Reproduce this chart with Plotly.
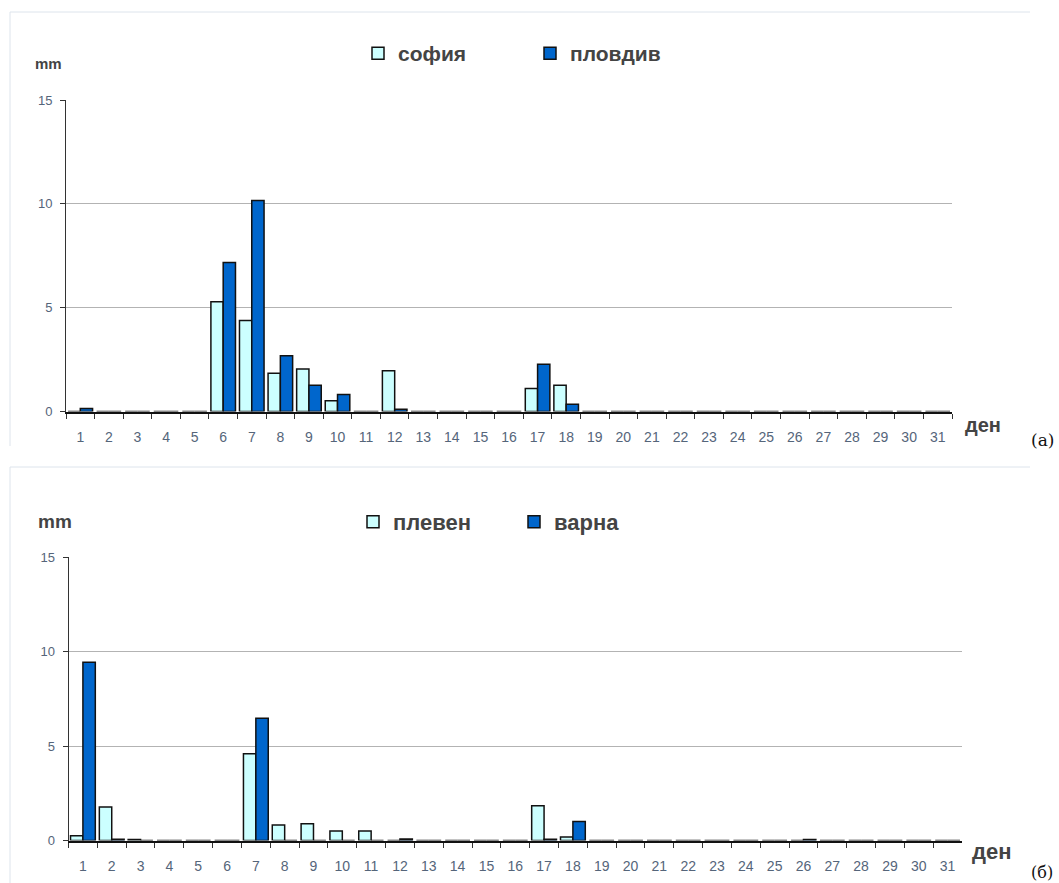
import plotly.graph_objects as go

days = [str(d) for d in range(1, 32)]

sofia = [0, 0, 0, 0, 0, 5.28, 4.38, 1.84, 2.05, 0.52, 0, 1.96, 0, 0, 0, 0, 1.11, 1.27,
         0, 0, 0, 0, 0, 0, 0, 0, 0, 0, 0, 0, 0]
plovdiv = [0.15, 0, 0, 0, 0, 7.17, 10.16, 2.69, 1.27, 0.82, 0, 0.11, 0, 0, 0, 0, 2.27, 0.35,
           0, 0, 0, 0, 0, 0, 0, 0, 0, 0, 0, 0, 0]
pleven = [0.25, 1.77, 0.05, 0, 0, 0, 4.59, 0.82, 0.89, 0.50, 0.50, 0, 0, 0, 0, 0, 1.84, 0.19,
          0, 0, 0, 0, 0, 0, 0, 0, 0, 0, 0, 0, 0]
varna = [9.43, 0.07, 0, 0, 0, 0, 6.47, 0, 0, 0, 0, 0.08, 0, 0, 0, 0, 0.07, 1.01,
         0, 0, 0, 0, 0, 0, 0, 0.05, 0, 0, 0, 0, 0]

ytick_vals = [0, 5, 10, 15]

W, H = 1059, 883
LIGHT = "#ccffff"
DARK = "#0066cc"
TICKCOL = "#55657a"
TXT = "#444444"


def px_x(p):
    return p / W


def px_y(p):
    return 1 - p / H


fig = go.Figure()
bar_line = dict(color="#111111", width=1.5)
fig.add_trace(go.Bar(x=days, y=sofia, name="софия", marker=dict(color=LIGHT, line=bar_line),
                     xaxis="x", yaxis="y", legend="legend"))
fig.add_trace(go.Bar(x=days, y=plovdiv, name="пловдив", marker=dict(color=DARK, line=bar_line),
                     xaxis="x", yaxis="y", legend="legend"))
fig.add_trace(go.Bar(x=days, y=pleven, name="плевен", marker=dict(color=LIGHT, line=bar_line),
                     xaxis="x2", yaxis="y2", legend="legend2"))
fig.add_trace(go.Bar(x=days, y=varna, name="варна", marker=dict(color=DARK, line=bar_line),
                     xaxis="x2", yaxis="y2", legend="legend2"))

xcommon = dict(type="category", tickson="boundaries", ticks="outside", ticklen=5,
               tickcolor="#333333", showline=True, linecolor="#111111", linewidth=2,
               showgrid=False, tickfont=dict(family="Liberation Sans, Arial", size=14, color=TICKCOL),
               ticklabelstandoff=12, fixedrange=True, automargin=False)
ycommon = dict(range=[0, 15], tickvals=ytick_vals, ticks="outside", ticklen=5,
               tickcolor="#333333", showline=True, linecolor="#333333", linewidth=1,
               showgrid=True, gridcolor="#b3b3b3", gridwidth=1, zeroline=False,
               tickfont=dict(family="Liberation Sans Narrow, Liberation Sans, Arial", size=13, color=TICKCOL),
               ticklabelstandoff=5, fixedrange=True, automargin=False)

fig.update_layout(
    width=W, height=H, autosize=False,
    margin=dict(l=0, r=0, t=0, b=0, pad=0, autoexpand=False),
    paper_bgcolor="white", plot_bgcolor="white",
    barmode="group", bargap=0.14, bargroupgap=0,
    xaxis=dict(domain=[px_x(66), px_x(952)], anchor="y", **xcommon),
    yaxis=dict(domain=[px_y(411.5), px_y(100)], anchor="x", **ycommon),
    xaxis2=dict(domain=[px_x(68.5), px_x(962)], anchor="y2", **xcommon),
    yaxis2=dict(domain=[px_y(840.5), px_y(557)], anchor="x2", **ycommon),
    legend=dict(orientation="h", x=px_x(358), y=px_y(33), xanchor="left", yanchor="top",
                font=dict(family="Liberation Sans, Arial", size=21, color=TXT, weight="bold"),
                entrywidth=127, bgcolor="rgba(0,0,0,0)", itemclick=False, itemdoubleclick=False),
    legend2=dict(orientation="h", x=px_x(353), y=px_y(501), xanchor="left", yanchor="top",
                 font=dict(family="Liberation Sans, Arial", size=22, color=TXT, weight="bold"),
                 entrywidth=116, bgcolor="rgba(0,0,0,0)", itemclick=False, itemdoubleclick=False),
    showlegend=True,
)

annotations = [
    dict(text="mm", x=px_x(48), y=px_y(64), font=dict(size=15, color=TXT, weight="bold")),
    dict(text="mm", x=px_x(55), y=px_y(521), font=dict(size=19, color=TXT, weight="bold")),
    dict(text="ден", x=px_x(983), y=px_y(425), font=dict(size=20, color=TXT, weight="bold")),
    dict(text="ден", x=px_x(992), y=px_y(851), font=dict(size=22, color=TXT, weight="bold")),
    dict(text="(a)", x=px_x(1042), y=px_y(440), font=dict(family="DejaVu Serif", size=17, color="#111111")),
    dict(text="(б)", x=px_x(1042), y=px_y(872), font=dict(family="DejaVu Serif", size=16, color="#111111")),
]
for a in annotations:
    a.update(xref="paper", yref="paper", showarrow=False, xanchor="center", yanchor="middle")
    a["font"].setdefault("family", "Liberation Sans, Arial")
fig.update_layout(annotations=annotations)

border = dict(color="#dde4ec", width=1)
fig.update_layout(shapes=[
    dict(type="line", xref="paper", yref="paper", x0=px_x(10), x1=px_x(1030), y0=px_y(12), y1=px_y(12), line=border),
    dict(type="line", xref="paper", yref="paper", x0=px_x(10), x1=px_x(10), y0=px_y(12), y1=px_y(446), line=border),
    dict(type="line", xref="paper", yref="paper", x0=px_x(10), x1=px_x(1030), y0=px_y(467), y1=px_y(467), line=border),
    dict(type="line", xref="paper", yref="paper", x0=px_x(10), x1=px_x(10), y0=px_y(467), y1=px_y(883), line=border),
])

fig.write_html("out.html", config={"displayModeBar": False},
               post_script="document.body.style.margin='0';document.body.style.overflow='hidden';")
